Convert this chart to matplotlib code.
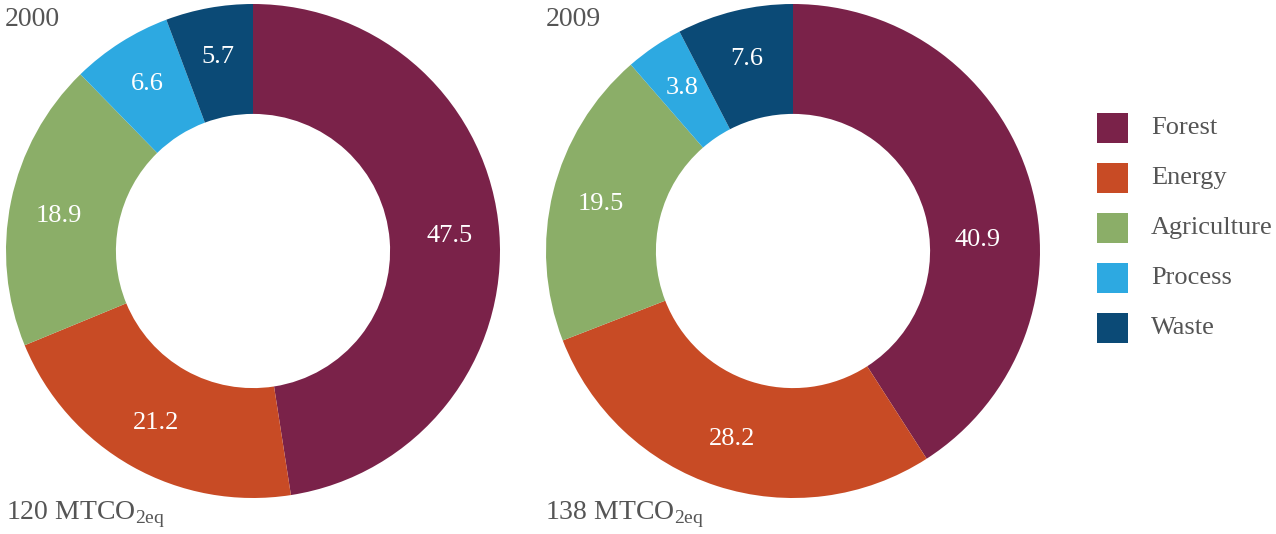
import matplotlib
matplotlib.use("Agg")
import numpy as np
import matplotlib.pyplot as plt
from matplotlib.patches import Rectangle

plt.rcParams['font.family'] = ['Liberation Serif', 'DejaVu Serif']
plt.rcParams['mathtext.fontset'] = 'custom'
plt.rcParams['mathtext.rm'] = 'Liberation Serif'

categories = ["Forest", "Energy", "Agriculture", "Process", "Waste"]
values_2000 = [47.5, 21.2, 18.9, 6.6, 5.7]
values_2009 = [40.9, 28.2, 19.5, 3.8, 7.6]
years = ["2000", "2009"]
totals = ["120", "138"]
colors = ["#7A2249", "#C84B25", "#8BAE68", "#2DA9E1", "#0B4A76"]
text_gray = "#555555"

# small manual nudges (degrees) of label angles to mimic the original layout
label_nudge = {("2009", "Forest"): -13.0, ("2000", "Agriculture"): 1.5}
label_dist = {("2009", "Forest"): 0.75}

W, H = 1276, 534
fig = plt.figure(figsize=(W / 100, H / 100), dpi=100)


def add_donut(cx, vals, year):
    r = 247
    cy = 251
    ax = fig.add_axes([(cx - r) / W, (H - (cy + r)) / H, 2 * r / W, 2 * r / H])
    wedges, _ = ax.pie(vals, colors=colors, startangle=90, counterclock=False,
                       wedgeprops=dict(width=0.445, edgecolor='none'), radius=1.0)
    for w, v, cat in zip(wedges, vals, categories):
        ang = 0.5 * (w.theta1 + w.theta2) + label_nudge.get((year, cat), 0.0)
        d = label_dist.get((year, cat), 0.80)
        x = d * np.cos(np.deg2rad(ang))
        y = d * np.sin(np.deg2rad(ang))
        ax.text(x, y, f"{v:.1f}", color='white', fontsize=19, ha='center', va='center')
    ax.set_xlim(-1, 1); ax.set_ylim(-1, 1)
    ax.set_aspect('equal')
    ax.axis('off')
    return ax


add_donut(253, values_2000, years[0])
add_donut(793, values_2009, years[1])

fig.text(5 / W, 1 - 20 / H, years[0], color=text_gray, fontsize=20, ha='left', va='center')
fig.text(546 / W, 1 - 20 / H, years[1], color=text_gray, fontsize=20, ha='left', va='center')
fig.text(6 / W, 1 - 515 / H, totals[0] + r" MTCO$_{\mathrm{2eq}}$", color=text_gray, fontsize=20, ha='left', va='center')
fig.text(545 / W, 1 - 515 / H, totals[1] + r" MTCO$_{\mathrm{2eq}}$", color=text_gray, fontsize=20, ha='left', va='center')

# legend
for i, (cat, col) in enumerate(zip(categories, colors)):
    yc = 128 + 50 * i
    fig.patches.append(Rectangle((1097 / W, 1 - (yc + 15) / H), 31 / W, 30 / H,
                                 transform=fig.transFigure, facecolor=col, edgecolor='none'))
    fig.text(1151 / W, 1 - yc / H, cat, color=text_gray, fontsize=19, ha='left', va='center')

fig.savefig("out.png", dpi=100)
